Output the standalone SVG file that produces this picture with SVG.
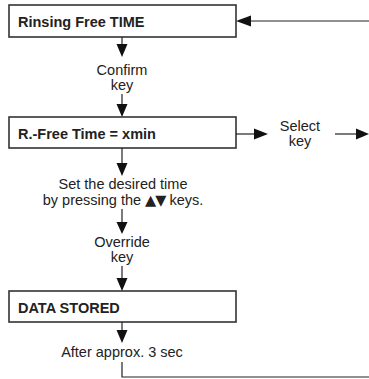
<svg xmlns="http://www.w3.org/2000/svg" width="369" height="379" viewBox="0 0 369 379">
<style>
.box{fill:#fff;stroke:#333;stroke-width:1.6}
.b{font-family:"Liberation Sans",Arial,sans-serif;font-weight:bold;font-size:14.5px;fill:#222}
.t{font-family:"Liberation Sans",Arial,sans-serif;font-size:14.5px;fill:#222;text-anchor:middle}
.tri{font-family:"DejaVu Sans",sans-serif;font-size:14.5px}
.ln{stroke:#222;stroke-width:1.2;fill:none}
.ah{fill:#111}
</style>
<g id="n1"><rect class="box" x="9" y="5" width="227" height="32"/><text class="b" x="18" y="27">Rinsing Free TIME</text></g>
<g id="n2"><rect class="box" x="9" y="117" width="227" height="31"/><text class="b" x="18" y="139">R.-Free Time = xmin</text></g>
<g id="n3"><rect class="box" x="9" y="291" width="227" height="31"/><text class="b" x="18" y="313">DATA STORED</text></g>
<g id="labels">
<text class="t" x="122" y="75">Confirm</text>
<text class="t" x="122" y="90">key</text>
<text class="t" x="300" y="131">Select</text>
<text class="t" x="300" y="146">key</text>
<text class="t" x="123" y="189">Set the desired time</text>
<text class="t" x="123" y="205">by pressing the <tspan class="tri" letter-spacing="-1">▲▼</tspan> keys.</text>
<text class="t" x="122" y="247">Override</text>
<text class="t" x="122" y="262">key</text>
<text class="t" x="122" y="357">After approx. 3 sec</text>
</g>
<g id="connectors">
<path class="ln" d="M369 21H248"/><path class="ah" d="M236 21L251 15.5V26.5Z"/>
<path class="ln" d="M122 37V46"/><path class="ah" d="M122 57L116.5 44H127.5Z"/>
<path class="ln" d="M122 94V105"/><path class="ah" d="M122 117L116.5 104H127.5Z"/>
<path class="ln" d="M236 134H256"/><path class="ah" d="M268 134L254 128.5V139.5Z"/>
<path class="ln" d="M335 134H358"/><path class="ah" d="M369 134L356 128.5V139.5Z"/>
<path class="ln" d="M122 148V164"/><path class="ah" d="M122 176L116.5 163H127.5Z"/>
<path class="ln" d="M122 209V224"/><path class="ah" d="M122 234L116.5 222H127.5Z"/>
<path class="ln" d="M122 266V279"/><path class="ah" d="M122 291L116.5 278H127.5Z"/>
<path class="ln" d="M122 322V331"/><path class="ah" d="M122 343L116.5 330H127.5Z"/>
<path class="ln" d="M122 362V377H369"/>
</g>
</svg>
